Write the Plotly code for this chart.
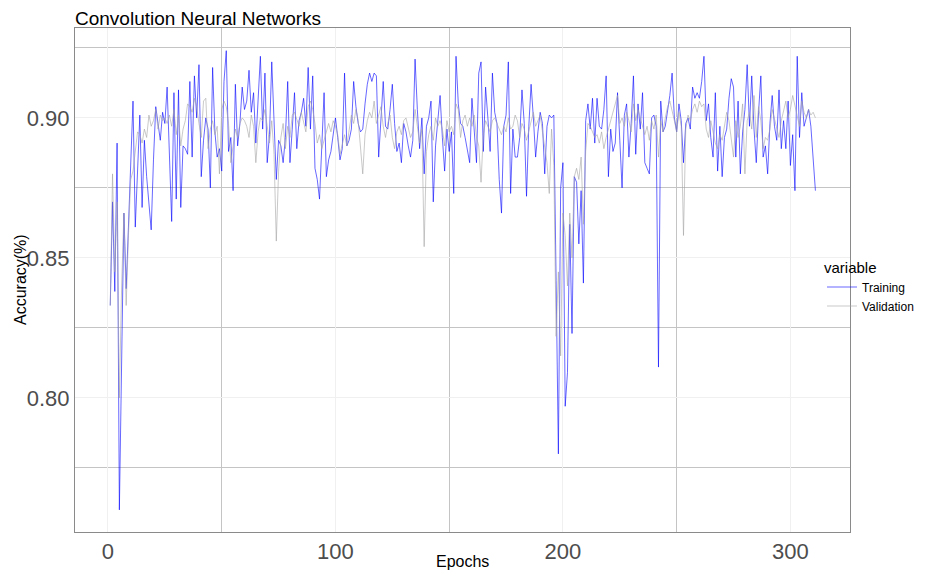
import plotly.graph_objects as go

epochs = list(range(1, 312))

training = [
    0.833, 0.870, 0.838, 0.891, 0.760, 0.815, 0.866, 0.839, 0.862, 0.878,
    0.906, 0.861, 0.885, 0.901, 0.868, 0.892, 0.879, 0.870, 0.860, 0.885,
    0.904, 0.898, 0.892, 0.902, 0.898, 0.911, 0.885, 0.863, 0.909, 0.871,
    0.910, 0.868, 0.890, 0.889, 0.887, 0.913, 0.886, 0.915, 0.900, 0.919,
    0.879, 0.892, 0.900, 0.896, 0.875, 0.918, 0.895, 0.886, 0.889, 0.881,
    0.913, 0.924, 0.888, 0.893, 0.874, 0.912, 0.890, 0.898, 0.911, 0.903,
    0.906, 0.917, 0.902, 0.909, 0.891, 0.905, 0.922, 0.896, 0.916, 0.884,
    0.894, 0.920, 0.899, 0.878, 0.892, 0.890, 0.884, 0.893, 0.913, 0.884,
    0.896, 0.909, 0.889, 0.899, 0.902, 0.907, 0.897, 0.918, 0.896, 0.915,
    0.882, 0.878, 0.871, 0.893, 0.909, 0.879, 0.885, 0.888, 0.895, 0.900,
    0.893, 0.885, 0.889, 0.916, 0.890, 0.892, 0.896, 0.913, 0.904, 0.898,
    0.895, 0.896, 0.905, 0.912, 0.916, 0.913, 0.916, 0.915, 0.886, 0.900,
    0.913, 0.897, 0.896, 0.903, 0.912, 0.898, 0.888, 0.891, 0.884, 0.898,
    0.895, 0.890, 0.886, 0.892, 0.921, 0.903, 0.889, 0.900, 0.880, 0.897,
    0.900, 0.906, 0.870, 0.890, 0.899, 0.908, 0.893, 0.881, 0.896, 0.888,
    0.895, 0.873, 0.922, 0.905, 0.898, 0.897, 0.893, 0.888, 0.884, 0.907,
    0.895, 0.884, 0.916, 0.920, 0.888, 0.911, 0.900, 0.888, 0.916, 0.902,
    0.898, 0.878, 0.866, 0.897, 0.901, 0.920, 0.873, 0.896, 0.886, 0.886,
    0.893, 0.910, 0.898, 0.872, 0.897, 0.912, 0.900, 0.886, 0.895, 0.902,
    0.898, 0.880, 0.897, 0.901, 0.900, 0.901, 0.842, 0.780, 0.875, 0.884,
    0.797, 0.809, 0.862, 0.823, 0.879, 0.877, 0.855, 0.874, 0.841, 0.899,
    0.905, 0.896, 0.907, 0.891, 0.907, 0.897, 0.896, 0.903, 0.915, 0.879,
    0.896, 0.888, 0.891, 0.909, 0.892, 0.875, 0.901, 0.905, 0.886, 0.898,
    0.915, 0.887, 0.905, 0.896, 0.909, 0.884, 0.882, 0.880, 0.900, 0.901,
    0.897, 0.811, 0.906, 0.895, 0.897, 0.903, 0.908, 0.916, 0.900, 0.895,
    0.905, 0.899, 0.884, 0.898, 0.900, 0.896, 0.911, 0.907, 0.909, 0.907,
    0.913, 0.922, 0.899, 0.905, 0.893, 0.886, 0.909, 0.881, 0.897, 0.879,
    0.893, 0.896, 0.907, 0.914, 0.911, 0.886, 0.906, 0.880, 0.895, 0.903,
    0.919, 0.897, 0.915, 0.896, 0.884, 0.902, 0.915, 0.886, 0.890, 0.880,
    0.898, 0.908, 0.897, 0.892, 0.910, 0.889, 0.899, 0.889, 0.906, 0.883,
    0.894, 0.874, 0.922, 0.893, 0.909, 0.897, 0.900, 0.903, 0.897, 0.887,
    0.874,
]

validation = [
    0.833, 0.880, 0.845, 0.870, 0.800, 0.840, 0.866, 0.833, 0.858, 0.878,
    0.881, 0.889, 0.895, 0.894, 0.891, 0.896, 0.893, 0.901, 0.897, 0.899,
    0.903, 0.896, 0.901, 0.899, 0.900, 0.898, 0.901, 0.897, 0.903, 0.894,
    0.901, 0.890, 0.896, 0.899, 0.905, 0.904, 0.902, 0.907, 0.904, 0.898,
    0.893, 0.906, 0.907, 0.889, 0.896, 0.899, 0.894, 0.897, 0.880, 0.903,
    0.906, 0.904, 0.898, 0.884, 0.891, 0.896, 0.893, 0.898, 0.900, 0.899,
    0.897, 0.893, 0.901, 0.897, 0.884, 0.895, 0.900, 0.899, 0.903, 0.897,
    0.891, 0.899, 0.887, 0.856, 0.881, 0.893, 0.898, 0.889, 0.897, 0.893,
    0.901, 0.902, 0.899, 0.897, 0.902, 0.899, 0.895, 0.904, 0.906, 0.903,
    0.898, 0.891, 0.894, 0.889, 0.892, 0.896, 0.898, 0.895, 0.899, 0.897,
    0.894, 0.887, 0.891, 0.894, 0.890, 0.896, 0.901, 0.898, 0.903, 0.899,
    0.890, 0.880, 0.894, 0.899, 0.902, 0.900, 0.906, 0.898, 0.901, 0.904,
    0.897, 0.893, 0.898, 0.901, 0.893, 0.889, 0.895, 0.897, 0.894, 0.899,
    0.900, 0.896, 0.893, 0.895, 0.903, 0.897, 0.891, 0.896, 0.854, 0.888,
    0.894, 0.897, 0.892, 0.900, 0.897, 0.899, 0.896, 0.890, 0.899, 0.895,
    0.897, 0.894, 0.905, 0.903, 0.893, 0.899, 0.901, 0.897, 0.900, 0.897,
    0.901, 0.893, 0.890, 0.877, 0.894, 0.899, 0.897, 0.895, 0.899, 0.900,
    0.898, 0.896, 0.894, 0.897, 0.895, 0.900, 0.896, 0.897, 0.901, 0.899,
    0.893, 0.898, 0.896, 0.892, 0.895, 0.899, 0.902, 0.897, 0.899, 0.901,
    0.895, 0.889, 0.884, 0.873, 0.896, 0.883, 0.822, 0.845, 0.815, 0.866,
    0.858, 0.840, 0.866, 0.850, 0.879, 0.882, 0.878, 0.886, 0.862, 0.888,
    0.898, 0.897, 0.895, 0.893, 0.894, 0.891, 0.895, 0.889, 0.893, 0.896,
    0.899, 0.901, 0.904, 0.908, 0.898, 0.900, 0.897, 0.902, 0.899, 0.895,
    0.905, 0.899, 0.903, 0.900, 0.898, 0.894, 0.897, 0.892, 0.899, 0.896,
    0.901, 0.886, 0.899, 0.895, 0.900, 0.904, 0.906, 0.903, 0.899, 0.895,
    0.902, 0.897, 0.858, 0.896, 0.901, 0.899, 0.903, 0.905, 0.902, 0.906,
    0.904, 0.905, 0.896, 0.893, 0.899, 0.895, 0.891, 0.889, 0.894, 0.892,
    0.897, 0.902, 0.899, 0.893, 0.886, 0.899, 0.893, 0.897, 0.905, 0.880,
    0.899, 0.902, 0.896, 0.908, 0.893, 0.904, 0.899, 0.889, 0.893, 0.892,
    0.896, 0.903, 0.900, 0.897, 0.893, 0.899, 0.903, 0.906, 0.900, 0.903,
    0.908, 0.904, 0.901, 0.897, 0.906, 0.902, 0.900, 0.903, 0.901, 0.902,
    0.900,
]

x_ticks = [0, 100, 200, 300]
y_ticks = [0.80, 0.85, 0.90]
y_tick_labels = ["0.80", "0.85", "0.90"]

FONT = "Liberation Sans, Arial, sans-serif"
L, R, T, B = 75, 75, 28, 40
PW, PH = 925 - L - R, 572 - T - B

fig = go.Figure()
fig.add_trace(go.Scatter(x=epochs, y=training, mode="lines", name="Training",
                         line=dict(color="rgba(0,0,255,0.75)", width=0.8)))
fig.add_trace(go.Scatter(x=epochs, y=validation, mode="lines", name="Validation",
                         line=dict(color="rgba(165,165,165,0.75)", width=0.8)))

fig.update_layout(
    width=925, height=572,
    margin=dict(l=L, r=R, t=T, b=B, autoexpand=False),
    paper_bgcolor="white", plot_bgcolor="white",
    font=dict(family=FONT, color="black"),
    title=dict(text="Convolution Neural Networks", x=L/925, xanchor="left",
               xref="container", y=1.0, yanchor="top",
               font=dict(size=19, color="black", family=FONT), pad=dict(t=12)),
    showlegend=True,
    legend=dict(title=dict(text="variable", font=dict(size=15)),
                x=(822 - L)/PW, xanchor="left", y=(T + PH - 253)/PH, yanchor="top",
                font=dict(size=12, color="black"), tracegroupgap=0,
                itemwidth=30, bgcolor="rgba(0,0,0,0)"),
    xaxis=dict(range=[-14.5, 326.2], tickvals=x_ticks, ticks="", automargin=False,
               tickfont=dict(size=22, color="#4d4d4d"),
               showgrid=True, gridcolor="#f0f0f0", gridwidth=1,
               minor=dict(tickvals=[50, 150, 250], showgrid=True,
                          gridcolor="#c4c4c4", gridwidth=1, ticks=""),
               zeroline=False, showline=True, mirror=True,
               linecolor="#8a8a8a", linewidth=1),
    yaxis=dict(range=[0.7521, 0.9321], tickvals=y_ticks, ticktext=y_tick_labels,
               ticks="", automargin=False, tickfont=dict(size=22, color="#4d4d4d"),
               showgrid=True, gridcolor="#f0f0f0", gridwidth=1,
               minor=dict(tickvals=[0.775, 0.825, 0.875, 0.925], showgrid=True,
                          gridcolor="#c4c4c4", gridwidth=1, ticks=""),
               zeroline=False, showline=True, mirror=True,
               linecolor="#8a8a8a", linewidth=1),
    annotations=[
        dict(text="Epochs", xref="paper", yref="paper", x=0.5, y=(T + PH - 561)/PH,
             xanchor="center", yanchor="middle", showarrow=False,
             font=dict(size=16, color="black")),
        dict(text="Accuracy(%)", xref="paper", yref="paper", x=(20 - L)/PW, y=0.5,
             xanchor="center", yanchor="middle", showarrow=False, textangle=-90,
             font=dict(size=16, color="black")),
    ],
)

fig.write_html("out.html", config={"displayModeBar": False},
               post_script="document.body.style.margin='0px';")
